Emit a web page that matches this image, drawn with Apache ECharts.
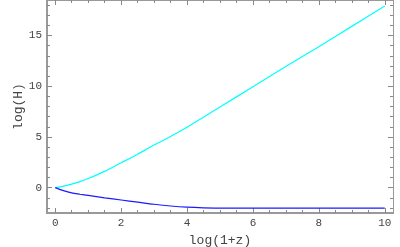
<!DOCTYPE html>
<html><head><meta charset="utf-8">
<script src="https://cdn.jsdelivr.net/npm/echarts@6/dist/echarts.min.js"></script>
<style>html,body{margin:0;padding:0;background:#fff}#c{width:400px;height:247px}</style>
</head><body><div id="c"></div>
<script>
const xValues = [0, 0.25, 0.5, 0.75, 1, 1.5, 2, 2.5, 3, 3.5, 4, 4.5, 5, 6, 7, 8, 9, 10];
const upperLogH = [0, 0.15, 0.35, 0.6, 0.9, 1.6, 2.45, 3.3, 4.2, 5.05, 5.95, 6.95, 7.95, 9.95, 11.95, 13.9, 15.9, 17.9];
const lowerLogH = [0, -0.3, -0.52, -0.65, -0.77, -1.0, -1.22, -1.43, -1.64, -1.81, -1.93, -1.99, -2.01, -2.02, -2.02, -2.02, -2.02, -2.02];
const xTickLabels = [0, 2, 4, 6, 8, 10];
const yTickLabels = [0, 5, 10, 15];
const xMinorTicks = [];
for (let v = 0; v <= 10; v += 0.5) xMinorTicks.push(v);
const yMinorTicks = [];
for (let v = -2; v <= 18; v += 1) yMinorTicks.push(v);

const X_MIN = -0.25, X_MAX = 10.25, Y_MIN = -2.5, Y_MAX = 18.5;
const axisGray = '#999';
const font = 'Liberation Mono, DejaVu Sans Mono, monospace';

function xAxisDef(pos, ticks, len, showLabels, lineW, name) {
  return {
    type: 'value', position: pos, min: X_MIN, max: X_MAX,
    splitLine: {show: false},
    axisLine: {show: true, onZero: false, lineStyle: {color: axisGray, width: lineW}},
    axisTick: {show: true, inside: true, length: len, customValues: ticks, lineStyle: {color: '#888', width: 1}},
    axisLabel: {show: showLabels, customValues: showLabels ? ticks : undefined, color: '#444', fontFamily: font, fontSize: 11, margin: 5},
    name: name || '', nameLocation: 'middle', nameGap: 19,
    nameTextStyle: {color: '#444', fontFamily: font, fontSize: 13}
  };
}
function yAxisDef(pos, ticks, len, showLabels, lineW, name) {
  return {
    type: 'value', position: pos, min: Y_MIN, max: Y_MAX,
    splitLine: {show: false},
    axisLine: {show: true, onZero: false, lineStyle: {color: axisGray, width: lineW}},
    axisTick: {show: true, inside: true, length: len, customValues: ticks, lineStyle: {color: '#888', width: 1}},
    axisLabel: {show: showLabels, customValues: showLabels ? ticks : undefined, color: '#444', fontFamily: font, fontSize: 11, margin: 5},
    name: name || '', nameLocation: 'middle', nameGap: 22, nameMoveOverlap: false,
    nameTextStyle: {color: '#444', fontFamily: font, fontSize: 13}
  };
}

const chart = echarts.init(document.getElementById('c'), null, {renderer: 'canvas'});
chart.setOption({
  animation: false,
  backgroundColor: '#fff',
  grid: {left: 47, right: 7, top: 0, bottom: 34, containLabel: false, outerBoundsMode: 'none'},
  xAxis: [
    xAxisDef('bottom', xTickLabels, 5, true, 2, 'log(1+z)'),
    xAxisDef('bottom', xMinorTicks, 3, false, 2),
    xAxisDef('top', xTickLabels, 5, false, 1),
    xAxisDef('top', xMinorTicks, 3, false, 1)
  ],
  yAxis: [
    yAxisDef('left', yTickLabels, 5, true, 2, 'log(H)'),
    yAxisDef('left', yMinorTicks, 3, false, 2),
    yAxisDef('right', yTickLabels, 5, false, 1),
    yAxisDef('right', yMinorTicks, 3, false, 1)
  ],
  series: [
    {type: 'line', xAxisIndex: 0, yAxisIndex: 0, showSymbol: false, smooth: 0.3,
     lineStyle: {color: '#00ffff', width: 1.2}, data: xValues.map((x, i) => [x, upperLogH[i]])},
    {type: 'line', xAxisIndex: 0, yAxisIndex: 0, showSymbol: false, smooth: 0.3,
     lineStyle: {color: '#1a1aff', width: 1.2}, data: xValues.map((x, i) => [x, lowerLogH[i]])}
  ]
});
</script></body></html>
